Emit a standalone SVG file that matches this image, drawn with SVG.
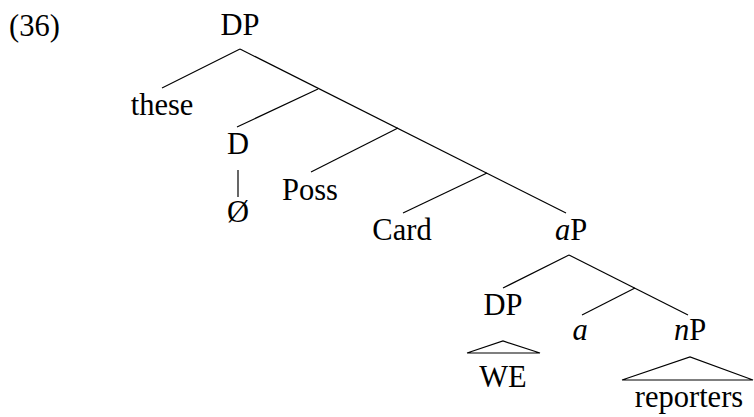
<svg xmlns="http://www.w3.org/2000/svg" width="754" height="417" viewBox="0 0 754 417">
<style>
text{font-family:"Liberation Serif","Times New Roman",serif;font-size:30.5px;fill:#000;text-anchor:middle}
.i{font-style:italic}
.e line,.e polyline{stroke:#000;stroke-width:1.2;fill:none}
</style>
<rect width="754" height="417" fill="#fff"/>
<text x="9" y="36" style="text-anchor:start">(36)</text>
<g id="edges" class="e">
<line x1="240" y1="49" x2="566" y2="213"/>
<line x1="240" y1="49" x2="162" y2="88"/>
<line x1="318" y1="89" x2="237" y2="127"/>
<line x1="398" y1="128" x2="311" y2="172"/>
<line x1="487" y1="173" x2="403" y2="213"/>
<line x1="238" y1="170" x2="238" y2="197"/>
<line x1="569" y1="255" x2="503" y2="288"/>
<line x1="569" y1="255" x2="688" y2="315"/>
<line x1="635" y1="288" x2="582" y2="315"/>
<polyline points="467,353 503,341 540,353 467,353"/>
<polyline points="622,380 690,357 753,380 622,380"/>
</g>
<g id="n-dp"><text x="240" y="35">DP</text></g>
<g id="n-these"><text x="162" y="115">these</text></g>
<g id="n-d"><text x="238" y="154">D</text></g>
<g id="n-null"><text x="238" y="222">Ø</text></g>
<g id="n-poss"><text x="310" y="200">Poss</text></g>
<g id="n-card"><text x="402" y="240">Card</text></g>
<g id="n-ap"><text x="571" y="240"><tspan class="i">a</tspan>P</text></g>
<g id="n-dp2"><text x="503" y="315">DP</text></g>
<g id="n-a"><text x="580" y="340" class="i">a</text></g>
<g id="n-np"><text x="690" y="340"><tspan class="i">n</tspan>P</text></g>
<g id="n-we"><text x="503" y="387">WE</text></g>
<g id="n-reporters"><text x="689" y="407">reporters</text></g>
</svg>
